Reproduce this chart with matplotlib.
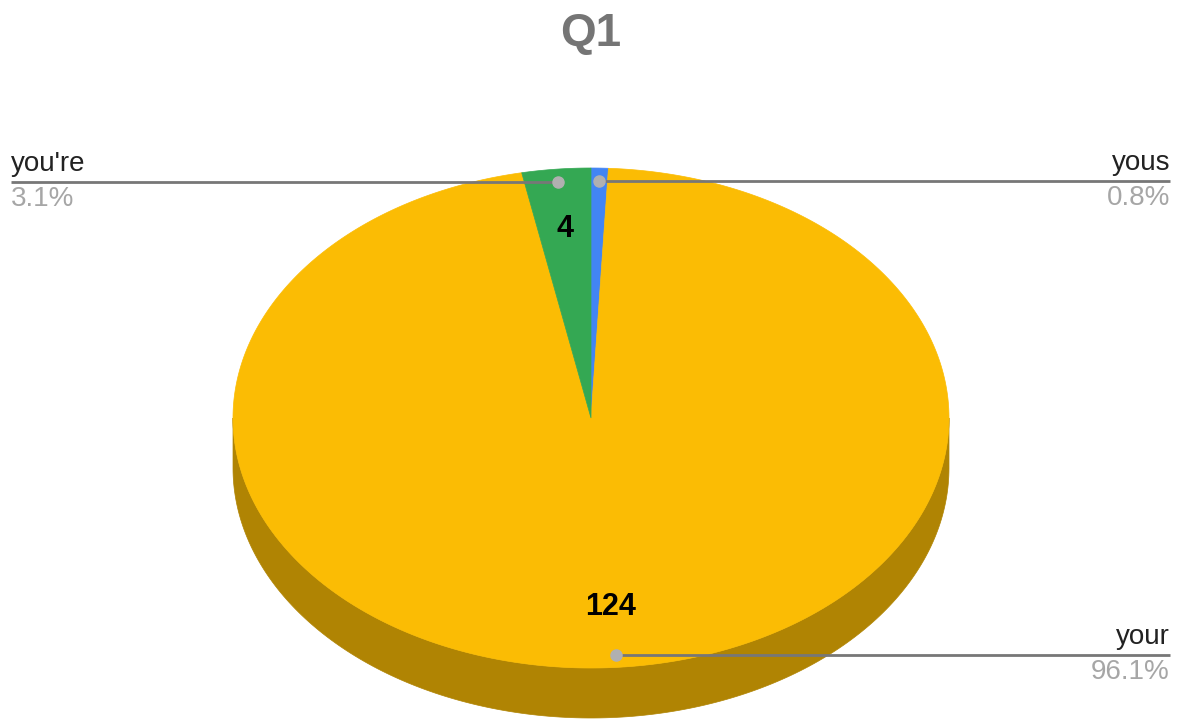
import numpy as np
import matplotlib
matplotlib.use('Agg')
import matplotlib.pyplot as plt
from matplotlib.patches import Polygon
from matplotlib.colors import to_rgb

plt.rcParams['font.family'] = ['Liberation Sans', 'DejaVu Sans']

# data, in drawing order clockwise from 12 o'clock
labels = ['yous', 'your', "you're"]
values = [1, 124, 4]
colors = ['#4285F4', '#FBBC04', '#34A853']
title = 'Q1'

# layout (pixels)
W, H = 1181, 719
cx, cy, rx, ry, depth = 591, 418, 358, 250, 50

fig = plt.figure(figsize=(W / 100, H / 100), dpi=100)
ax = fig.add_axes([0, 0, 1, 1])
ax.set_xlim(0, W)
ax.set_ylim(H, 0)
ax.axis('off')

def pt(theta, r=1.0, dy=0.0):
    # theta in degrees, measured clockwise from top
    t = np.radians(theta)
    return cx + rx * r * np.sin(t), cy - ry * r * np.cos(t) + dy

total = float(sum(values))
edges = np.concatenate([[0], np.cumsum(values)]) / total * 360

# side wall (front half only)
for i in range(len(values)):
    a0, a1 = max(edges[i], 90), min(edges[i + 1], 270)
    if a1 <= a0:
        continue
    th = np.linspace(a0, a1, 200)
    top = [pt(t) for t in th]
    bot = [pt(t, dy=depth) for t in th[::-1]]
    dark = tuple(c * 0.7 for c in to_rgb(colors[i]))
    ax.add_patch(Polygon(top + bot, closed=True, fc=dark, ec=dark, lw=0.5))

# top face
for i in range(len(values)):
    th = np.linspace(edges[i], edges[i + 1], max(int(edges[i + 1] - edges[i]) * 2, 10))
    poly = [(cx, cy)] + [pt(t) for t in th]
    ax.add_patch(Polygon(poly, closed=True, fc=colors[i], ec=colors[i], lw=0.5))

# values inside slices
for i in range(len(values)):
    mid = (edges[i] + edges[i + 1]) / 2
    if values[i] / total < 0.02:
        continue
    x, y = pt(mid, 0.76)
    ax.text(x, y, str(values[i]), ha='center', va='center', fontsize=22,
            fontweight='bold', color='black')

# leader lines + labels
for i in range(len(values)):
    mid = (edges[i] + edges[i + 1]) / 2
    x, y = pt(mid, 0.95)
    pct = '%.1f%%' % (100 * values[i] / total)
    if x < cx:
        ex, ha = 11, 'left'
    else:
        ex, ha = 1170, 'right'
    ax.plot([x, ex], [y, y], color='#777777', lw=2, solid_capstyle='butt', zorder=3)
    ax.plot(x, y, 'o', ms=8, color='#b0b0b0', zorder=4)
    ax.text(ex, y - 5, labels[i], ha=ha, va='bottom', fontsize=20, color='#222222')
    ax.text(ex, y + 4, pct, ha=ha, va='top', fontsize=20, color='#a6a6a6')

ax.text(W / 2, 34, title, ha='center', va='center', fontsize=33,
        fontweight='bold', color='#757575')

fig.savefig('out.png', dpi=100)
